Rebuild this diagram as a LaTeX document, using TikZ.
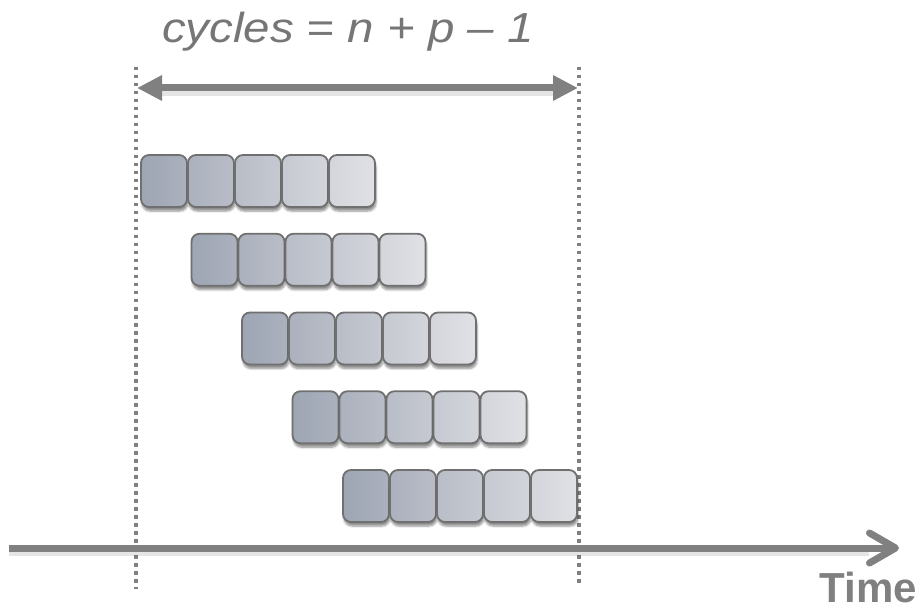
\documentclass[tikz,border=0pt]{standalone}
\usepackage{fontspec}
\setmainfont{Liberation Sans}
\usetikzlibrary{arrows.meta,shadows.blur}
\definecolor{linegray}{RGB}{128,128,128}
\definecolor{textgray}{RGB}{118,118,118}
\definecolor{boxedge}{RGB}{112,112,112}
\definecolor{boxdark}{RGB}{158,165,179}
\definecolor{boxlight}{RGB}{224,225,229}
\tikzset{
  slot/.style={draw=boxedge, line width=1.8pt, rounded corners=8pt, minimum width=46pt, minimum height=52pt, inner sep=0pt,
    blur shadow={shadow xshift=1pt, shadow yshift=-4pt, shadow blur steps=6, shadow opacity=45}},
  dotline/.style={draw=linegray, line width=3.6pt, dash pattern=on 3.5pt off 4.5pt},
  bigarrow/.style={draw=linegray, line width=7pt},
  label/.style={text=textgray, inner sep=0pt}
}
\begin{document}
\begin{tikzpicture}[x=1pt,y=-1pt]
\useasboundingbox (0,0) rectangle (920,609);
% dotted guides
\coordinate (lt) at (136,67);
\coordinate (lb) at (136,589);
\coordinate (rt) at (579,67);
\coordinate (rb) at (579,587);
\draw[dotline] (lt) -- (lb);
\draw[dotline] (rt) -- (rb);
% time axis
\coordinate (t0) at (9,548);
\coordinate (t1) at (899,548);
\draw[bigarrow, draw=black, opacity=0.10, line width=6pt] ([yshift=-5pt]t0) -- ([yshift=-5pt,xshift=-30pt]t1);
\draw[bigarrow, -{Straight Barb[length=26pt,width=30pt,line width=7pt,round]}] (t0) -- (t1);
% boxes
\foreach \i in {0,...,4}{
  \foreach \j in {0,...,4}{
    \pgfmathsetmacro{\cx}{141+50.5*\i+23+47*\j}
    \pgfmathsetmacro{\cy}{155+78.75*\i+26}
    \pgfmathtruncatemacro{\a}{100-20*\j}
    \pgfmathtruncatemacro{\b}{80-20*\j}
    \node[slot, left color=boxdark!\a!boxlight, right color=boxdark!\b!boxlight] (r\i c\j) at (\cx,\cy) {};
  }
}
% cycles arrow
\coordinate (al) at (137,88);
\coordinate (ar) at (578,88);
\draw[bigarrow, draw=black, opacity=0.10, line width=6pt] ([yshift=-5pt,xshift=22pt]al) -- ([yshift=-5pt,xshift=-22pt]ar);
\draw[bigarrow, {Triangle[length=25pt,width=24pt]}-{Triangle[length=25pt,width=24pt]}] (al) -- (ar);
% labels
\node[label, anchor=base, font=\fontsize{42}{50}\selectfont\itshape] (cyc) at (348,43) {\scalebox{1.13}[1]{cycles = \textit{n} + \textit{p} – 1}};
\node[label, anchor=base east, text=linegray, font=\fontsize{42}{50}\selectfont\bfseries] (time) at (917,602) {Time};
\end{tikzpicture}
\end{document}
